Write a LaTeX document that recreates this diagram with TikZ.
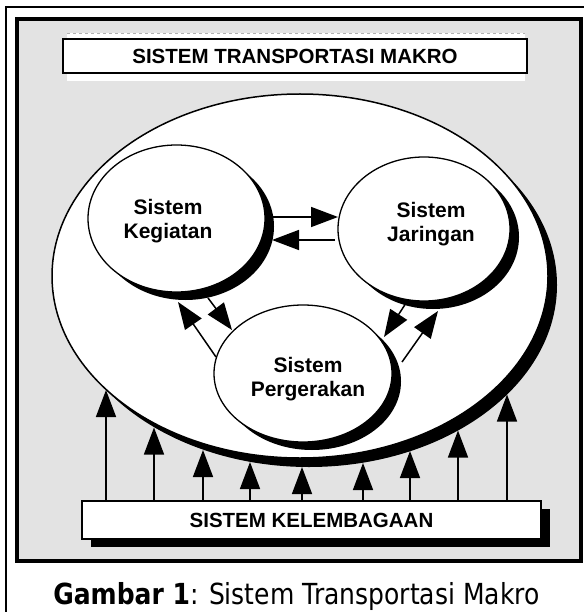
\documentclass[tikz,border=0pt]{standalone}
\usepackage{fontspec}
\usepackage{graphicx}
\setmainfont{Liberation Sans}
\newfontfamily\capfont{DejaVu Sans}
\usetikzlibrary{arrows.meta,shadows,shapes.geometric}
\definecolor{panelgray}{RGB}{227,227,227}
\begin{document}
\begin{tikzpicture}[x=1pt,y=-1pt,
  arr/.style={line width=1.5pt,-{Triangle[length=27pt,width=20pt]}},
  oval/.style={ellipse, draw, line width=1.3pt, fill=white, inner sep=0pt,
    drop shadow={shadow xshift=9pt,shadow yshift=-8pt,fill=black,opacity=1}},
  ovaltext/.style={font=\fontsize{21}{24}\selectfont\bfseries, align=center, inner sep=0pt},
  labelbox/.style={draw, fill=white, inner sep=0pt, font=\fontsize{20.5}{24}\selectfont\bfseries}]
\useasboundingbox (0,0) rectangle (583,612);
% outer frame and panel
\draw[line width=1.8pt] (6,7) rectangle (640,660);
\draw[line width=4pt, fill=panelgray] (17,19.5) rectangle (581,561);
% title
\fill[white] (67,33) rectangle (525,81);
\draw[gray!60, dashed, line width=0.8pt] (67,33.5) -- (525,33.5);
\node[labelbox, line width=2pt, minimum width=464pt, minimum height=34pt] (title) at (295,56) {SISTEM TRANSPORTASI MAKRO};
% macro ellipse
\node[ellipse, draw, line width=1.5pt, fill=white, minimum width=496pt, minimum height=364pt, inner sep=0pt,
  drop shadow={shadow xshift=9pt,shadow yshift=-9pt,fill=black,opacity=1}] (macro) at (300,276) {};
% institutional box
\node[labelbox, line width=1.2pt, minimum width=459pt, minimum height=38pt,
  drop shadow={shadow xshift=9pt,shadow yshift=-8pt,fill=black,opacity=1}] (kel) at (311.5,520) {SISTEM KELEMBAGAAN};
% arrow tips on the macro ellipse
\coordinate (t1) at (106,390);
\coordinate (t2) at (154,427.5);
\coordinate (t3) at (203,450);
\coordinate (t4) at (250,462);
\coordinate (t5) at (302,467);
\coordinate (t6) at (363,463);
\coordinate (t7) at (410,451);
\coordinate (t8) at (458,430.5);
\coordinate (t9) at (507,394.5);
\foreach \i in {1,...,9} {\draw[arr] (t\i |- kel.north) -- (t\i);}
% sub-systems
\node[oval, minimum width=177pt, minimum height=147pt] (keg) at (176.5,218.5) {};
\node[oval, minimum width=172pt, minimum height=144pt] (jar) at (424,229) {};
\node[oval, minimum width=178pt, minimum height=137pt] (perg) at (303,373.5) {};
\node[ovaltext] (kegtext) at (168,220.7) {Sistem\\Kegiatan};
\node[ovaltext] (jartext) at (431,223.7) {Sistem\\Jaringan};
\node[ovaltext] (pergtext) at (308,378.7) {Sistem\\Pergerakan};
% connector ends
\coordinate (kjA) at (272,217); \coordinate (kjB) at (338,217);
\coordinate (jkA) at (335,240); \coordinate (jkB) at (272,240);
\coordinate (pkA) at (216,357); \coordinate (pkB) at (178,302);
\coordinate (kpA) at (208,298); \coordinate (kpB) at (232,330);
\coordinate (jpA) at (408,300); \coordinate (jpB) at (384,337);
\coordinate (pjA) at (402,362); \coordinate (pjB) at (438,311);
\draw[arr] (kjA) -- (kjB);
\draw[arr] (jkA) -- (jkB);
\draw[arr] (pkA) -- (pkB);
\draw[arr] (kpA) -- (kpB);
\draw[arr] (jpA) -- (jpB);
\draw[arr] (pjA) -- (pjB);
% caption
\node[anchor=base, inner sep=0pt] (caption) at (296.5,604.5) {\capfont\fontsize{29}{34}\selectfont\scalebox{0.863}[1]{\textbf{Gambar 1}: Sistem Transportasi Makro}};
\end{tikzpicture}
\end{document}
